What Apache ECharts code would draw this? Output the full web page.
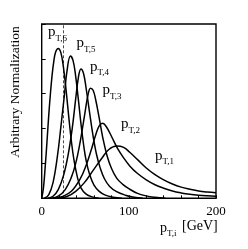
<!DOCTYPE html>
<html><head><meta charset="utf-8">
<script src="https://cdn.jsdelivr.net/npm/echarts@6/dist/echarts.min.js"></script>
<style>html,body{margin:0;padding:0;background:#fff}#c{width:248px;height:249px}</style>
</head><body><div id="c"></div>
<script>
// x tick labels shown on the axis
const xTickLabels = [0, 100, 200];
const cutLine = 25; // dashed vertical line [GeV]

const pt6 = [[0,0],[2,0.3],[4,0.9],[6,1.6],[8,2.35],[10,3.0],[12,3.55],[14,3.95],[16,4.2],[19,4.3],[22,4.18],[25,3.75],[28,3.1],[31,2.35],[34,1.65],[37,1.1],[41,0.6],[45,0.3],[51,0.12],[58,0.04],[66,0]];
const pt5 = [[3,0],[8,0.1],[13,0.45],[18,1.2],[22,2.05],[26,2.95],[29,3.65],[33,4.08],[36,3.95],[39,3.5],[42,2.85],[45,2.15],[48,1.55],[51,1.08],[55,0.68],[60,0.38],[66,0.2],[73,0.09],[82,0.03],[92,0]];
const pt4 = [[7,0],[13,0.06],[19,0.25],[25,0.65],[30,1.2],[35,2.0],[39,2.85],[42,3.45],[45,3.71],[48,3.58],[51,3.15],[55,2.45],[59,1.78],[63,1.25],[67,0.88],[72,0.56],[78,0.34],[86,0.19],[96,0.09],[106,0.03],[116,0]];
const pt3 = [[11,0],[19,0.06],[27,0.25],[34,0.6],[39,1.0],[44,1.6],[49,2.35],[53,2.95],[56,3.16],[59,3.1],[62,2.82],[66,2.3],[70,1.75],[75,1.22],[80,0.86],[86,0.58],[93,0.4],[101,0.26],[110,0.14],[120,0.07],[130,0.03],[142,0]];
const pt2 = [[15,0],[24,0.05],[34,0.2],[44,0.55],[51,0.95],[57,1.4],[62,1.82],[66,2.08],[70,2.15],[74,2.06],[80,1.78],[87,1.43],[94,1.16],[101,0.93],[110,0.71],[120,0.53],[130,0.39],[140,0.29],[150,0.21],[160,0.155],[170,0.115],[180,0.088],[190,0.07],[200,0.057]];
const pt1 = [[20,0],[29,0.05],[39,0.2],[49,0.45],[59,0.8],[69,1.15],[77,1.4],[86,1.5],[94,1.46],[101,1.32],[110,1.11],[120,0.87],[130,0.68],[140,0.53],[150,0.41],[160,0.32],[170,0.26],[180,0.21],[190,0.18],[200,0.16]];

const curves = [pt6, pt5, pt4, pt3, pt2, pt1];
const labelSubs = ['T,6','T,5','T,4','T,3','T,2','T,1'];
const labelPos = [[48,37],[76.5,48],[90,71.5],[102.5,95],[121,129],[155,160.5]];

const F = '"Liberation Serif","DejaVu Serif",serif';
const chart = echarts.init(document.getElementById('c'));
const graphics = [];
labelSubs.forEach((s,i)=>{
  const [x,y] = labelPos[i];
  graphics.push({type:'text', left:x, top:y-12, style:{text:'p', font:'15px '+F, fill:'#000'}});
  graphics.push({type:'text', left:x+7.5, top:y-3, style:{text:s, font:'9px '+F, fill:'#000'}});
});
// axis name
graphics.push({type:'text', left:160, top:221, style:{text:'p', font:'14px '+F, fill:'#000'}});
graphics.push({type:'text', left:167, top:229, style:{text:'T,i', font:'9px '+F, fill:'#000'}});
graphics.push({type:'text', left:182, top:219, style:{text:'[GeV]', font:'14px '+F, fill:'#000'}});
graphics.push({type:'text', x:15, y:92, rotation:Math.PI/2, style:{text:'Arbitrary Normalization', font:'13.5px '+F, fill:'#000', align:'center', verticalAlign:'middle'}});

const series = curves.map((d,i)=>({
  type:'line', data:d, smooth:0.4, showSymbol:false, silent:true,
  lineStyle:{color:'#000', width:1.5},
  markLine: i===0 ? {symbol:'none', silent:true, label:{show:false},
    lineStyle:{color:'#000', width:0.7, type:[3,2]}, data:[{xAxis:cutLine}]} : undefined
}));

chart.setOption({
  animation:false,
  grid:{left:41.7, right:32, top:24, bottom:50.7, show:true, borderColor:'#000', borderWidth:1.4},
  xAxis:{type:'value', min:0, max:200, interval:20,
    axisLine:{show:false}, splitLine:{show:false},
    axisTick:{inside:true, length:3, lineStyle:{color:'#000', width:1}},
    axisLabel:{margin:7, color:'#000', fontFamily:'Liberation Serif', fontSize:13,
      formatter:v=> xTickLabels.indexOf(v)>=0 ? String(v) : ''}},
  yAxis:{type:'value', min:0, max:5, interval:1,
    axisLine:{show:false}, splitLine:{show:false},
    axisTick:{inside:true, length:4, lineStyle:{color:'#000', width:1}},
    axisLabel:{show:false}},
  graphic:graphics,
  series:series
});
</script></body></html>
